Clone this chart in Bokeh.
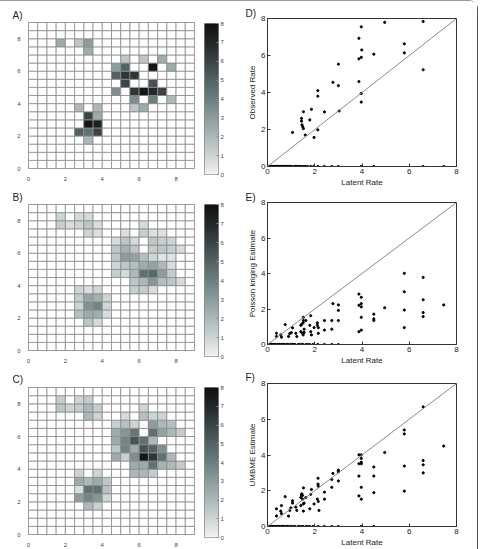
import numpy as np
from bokeh.plotting import figure
from bokeh.layouts import row, column
from bokeh.models import LinearColorMapper, Slope, ColumnDataSource
from bokeh.embed import file_html
from bokeh.resources import INLINE

FONT = "Liberation Sans"

# ---------------------------------------------------------------- data
# Heat maps: 0.5-unit cells on a 0..9 square; each non-zero cell is given by
# the lower-left corner (col, row) and its rate. All other cells are 0.
a_col = [1.5, 2.5, 3.0, 3.0, 5.0, 6.0, 7.0, 4.5, 5.0, 6.5, 7.5, 4.5, 5.0, 5.5,
         5.0, 6.5, 4.5, 5.5, 6.0, 6.5, 7.0, 5.5, 6.5, 7.5, 2.5, 3.5, 5.5, 6.0,
         3.0, 3.5, 3.0, 3.5, 2.5, 3.0, 3.5, 3.0]
a_row = [7.5, 7.5, 7.5, 7.0, 6.5, 6.5, 6.5, 6.0, 6.0, 6.0, 6.0, 5.5, 5.5, 5.5,
         5.0, 5.0, 4.5, 4.5, 4.5, 4.5, 4.5, 4.0, 4.0, 4.0, 3.5, 3.5, 3.5, 3.5,
         3.0, 3.0, 2.5, 2.5, 2.0, 2.0, 2.0, 1.5]
a_val = [2.5, 1.5, 3.0, 2.5, 1.5, 1.5, 2.5, 3.0, 5.0, 7.8, 2.5, 5.0, 6.5, 6.5,
         6.0, 5.5, 3.5, 6.5, 7.8, 7.0, 6.0, 3.5, 4.0, 2.0, 2.0, 2.0, 1.5, 2.5,
         6.0, 2.5, 7.8, 7.3, 5.0, 4.5, 6.0, 2.0]

b_col = [1.5, 2.5, 3.0,
         1.5, 2.0, 2.5, 3.0, 3.5, 6.0,
         3.0, 3.5, 5.0, 6.0, 6.5, 7.0,
         4.5, 5.0, 5.5, 6.5, 7.0, 7.5,
         4.5, 5.0, 5.5, 6.5, 7.0, 7.5, 8.0,
         4.5, 5.0, 5.5, 6.0, 6.5, 7.0, 7.5,
         4.5, 5.0, 5.5, 6.0, 6.5, 7.0, 7.5,
         4.5, 5.0, 5.5, 6.0, 6.5, 7.0, 7.5,
         5.5, 6.0, 6.5, 7.0, 7.5, 8.0,
         2.5, 3.0, 3.5, 5.5, 6.0, 6.5,
         2.5, 3.0, 3.5, 4.0,
         2.5, 3.0, 3.5, 4.0,
         2.5, 3.0, 3.5, 4.0,
         3.0, 3.5]
b_row = [8.0, 8.0, 8.0,
         7.5, 7.5, 7.5, 7.5, 7.5, 7.5,
         7.0, 7.0, 7.0, 7.0, 7.0, 7.0,
         6.5, 6.5, 6.5, 6.5, 6.5, 6.5,
         6.0, 6.0, 6.0, 6.0, 6.0, 6.0, 6.0,
         5.5, 5.5, 5.5, 5.5, 5.5, 5.5, 5.5,
         5.0, 5.0, 5.0, 5.0, 5.0, 5.0, 5.0,
         4.5, 4.5, 4.5, 4.5, 4.5, 4.5, 4.5,
         4.0, 4.0, 4.0, 4.0, 4.0, 4.0,
         3.5, 3.5, 3.5, 3.5, 3.5, 3.5,
         3.0, 3.0, 3.0, 3.0,
         2.5, 2.5, 2.5, 2.5,
         2.0, 2.0, 2.0, 2.0,
         1.5, 1.5]
b_val = [1.0, 0.8, 0.8,
         1.2, 0.7, 1.0, 1.5, 0.7, 0.8,
         1.0, 0.6, 0.6, 1.2, 0.6, 0.6,
         0.8, 1.5, 0.8, 1.5, 1.2, 1.0,
         1.5, 2.2, 1.5, 1.3, 1.5, 1.2, 0.7,
         1.5, 3.0, 2.8, 1.8, 1.0, 0.5, 0.5,
         1.0, 1.5, 1.8, 2.5, 2.8, 2.0, 0.7,
         1.3, 0.8, 2.0, 4.5, 4.8, 3.0, 1.3,
         1.5, 2.0, 3.2, 1.8, 1.5, 0.8,
         1.0, 0.6, 1.0, 1.2, 1.3, 0.7,
         1.3, 2.7, 2.3, 1.0,
         1.0, 3.3, 3.8, 1.0,
         1.7, 2.5, 2.4, 0.7,
         1.5, 0.8]

c_col = [1.5, 2.5, 3.0,
         1.5, 2.0, 2.5, 3.0, 3.5, 6.0,
         3.0, 3.5, 5.0, 6.0, 6.5, 7.0,
         4.5, 5.0, 5.5, 6.5, 7.0, 7.5,
         4.5, 5.0, 5.5, 6.5, 7.0, 7.5, 8.0,
         4.5, 5.0, 5.5, 6.0, 6.5,
         4.5, 5.0, 5.5, 6.0, 6.5, 7.0,
         4.5, 5.0, 5.5, 6.0, 6.5, 7.0, 7.5,
         5.5, 6.0, 6.5, 7.0, 7.5, 8.0,
         2.5, 3.5, 5.5, 6.0, 6.5,
         2.5, 3.0, 3.5, 4.0,
         2.5, 3.0, 3.5, 4.0,
         2.5, 3.0, 3.5, 4.0,
         3.0, 3.5]
c_row = [8.0, 8.0, 8.0,
         7.5, 7.5, 7.5, 7.5, 7.5, 7.5,
         7.0, 7.0, 7.0, 7.0, 7.0, 7.0,
         6.5, 6.5, 6.5, 6.5, 6.5, 6.5,
         6.0, 6.0, 6.0, 6.0, 6.0, 6.0, 6.0,
         5.5, 5.5, 5.5, 5.5, 5.5,
         5.0, 5.0, 5.0, 5.0, 5.0, 5.0,
         4.5, 4.5, 4.5, 4.5, 4.5, 4.5, 4.5,
         4.0, 4.0, 4.0, 4.0, 4.0, 4.0,
         3.5, 3.5, 3.5, 3.5, 3.5,
         3.0, 3.0, 3.0, 3.0,
         2.5, 2.5, 2.5, 2.5,
         2.0, 2.0, 2.0, 2.0,
         1.5, 1.5]
c_val = [1.2, 1.0, 1.3,
         1.5, 1.0, 1.3, 2.0, 1.2, 1.0,
         2.0, 1.0, 0.8, 1.7, 1.0, 1.0,
         1.2, 1.7, 1.0, 3.0, 2.0, 1.7,
         2.5, 3.2, 4.3, 4.5, 2.8, 2.0, 1.3,
         2.5, 3.8, 5.5, 4.5, 2.0,
         1.5, 3.8, 2.5, 5.5, 5.0, 3.5,
         2.5, 1.2, 3.5, 7.7, 6.5, 4.5, 2.0,
         2.5, 2.5, 4.5, 2.2, 2.0, 1.3,
         1.0, 1.0, 2.0, 2.0, 1.3,
         2.5, 2.0, 2.5, 1.5,
         0.7, 4.5, 4.5, 1.7,
         3.0, 3.8, 3.2, 1.0,
         2.0, 1.2]

# Scatter panels: latent rate against observed / estimated rate (non-zero part)
d_latent = [1.06, 1.44, 1.44, 1.46, 1.49, 1.52, 1.52, 1.60, 1.79, 1.86, 1.97,
            2.13, 2.13, 2.13, 2.41, 2.77, 3.00, 3.00, 3.03, 3.87, 3.87, 3.87,
            3.97, 3.99, 3.97, 3.97, 3.97, 4.50, 4.96, 5.79, 5.79, 6.59, 6.59]
d_observed = [1.84, 2.60, 2.45, 2.25, 2.15, 2.05, 2.96, 1.70, 2.52, 3.09, 1.57,
              1.98, 4.10, 3.80, 2.95, 4.55, 4.37, 5.53, 3.00, 6.93, 5.82, 4.59,
              7.55, 6.30, 5.90, 3.95, 3.48, 6.07, 7.79, 6.63, 6.14, 7.84, 5.23]
d_zero_latent = [0.00, 0.03, 0.07, 0.10, 0.13, 0.17, 0.20, 0.24, 0.28, 0.31,
                 0.35, 0.38, 0.42, 0.45, 0.50, 0.53, 0.56, 0.60, 0.64, 0.68,
                 0.72, 0.75, 0.80, 0.84, 0.89, 0.94, 0.98, 1.02, 1.12, 1.17,
                 1.20, 1.24, 1.30, 1.36, 1.41, 1.50, 1.55, 1.62, 1.70, 1.83,
                 1.95, 2.13, 2.41, 2.72, 3.00, 3.97, 4.50, 6.59, 7.46]

e_latent = [0.38, 0.38, 0.56, 0.59, 0.75, 0.89, 0.94, 1.01, 1.06, 1.20, 1.24,
            1.41, 1.41, 1.44, 1.48, 1.51, 1.52, 1.51, 1.55, 1.55, 1.52, 1.62,
            1.79, 1.83, 1.83, 1.86, 1.97, 2.11, 2.11, 2.15, 2.15, 2.41, 2.41,
            2.72, 2.72, 2.77, 3.00, 3.00, 3.00, 3.87, 3.87, 3.87, 3.97, 3.97,
            3.97, 3.97, 3.97, 4.50, 4.50, 4.50, 4.96, 5.79, 5.79, 5.79, 5.79,
            6.59, 6.59, 6.59, 6.59, 7.46]
e_kriging = [0.63, 0.45, 0.54, 0.41, 1.12, 0.45, 0.61, 0.67, 0.94, 0.63, 0.45,
             0.72, 1.08, 1.13, 0.63, 0.54, 1.53, 1.22, 0.86, 0.68, 1.35, 1.35,
             1.08, 1.62, 0.72, 0.54, 0.95, 1.22, 1.08, 0.95, 0.63, 1.35, 0.81,
             1.35, 0.86, 2.30, 1.92, 2.23, 1.35, 2.84, 2.21, 0.72, 2.66, 2.30,
             2.12, 1.53, 0.81, 1.71, 1.44, 1.35, 2.07, 4.01, 2.97, 1.94, 0.95,
             3.78, 2.52, 1.80, 1.57, 2.23]
e_zero_latent = [0.00, 0.03, 0.07, 0.10, 0.13, 0.17, 0.20, 0.24, 0.28, 0.31,
                 0.35, 0.42, 0.45, 0.50, 0.53, 0.60, 0.64, 0.68, 0.72, 0.80,
                 0.84, 0.89, 0.98, 1.02, 1.06, 1.12, 1.17, 1.30, 1.36, 1.45,
                 1.50, 1.62, 1.70, 1.79, 1.92, 2.13, 2.41, 2.72, 3.00]

f_latent = [0.38, 0.38, 0.56, 0.59, 0.59, 0.75, 0.89, 0.94, 0.99, 1.06, 1.06,
            1.20, 1.24, 1.41, 1.41, 1.44, 1.45, 1.48, 1.49, 1.51, 1.52, 1.55,
            1.52, 1.62, 1.79, 1.83, 1.86, 1.97, 2.11, 2.14, 2.14, 2.15, 2.15,
            2.18, 2.41, 2.41, 2.72, 2.72, 2.77, 3.00, 3.00, 3.00, 3.87, 3.87,
            3.87, 3.87, 3.97, 3.97, 3.97, 3.97, 3.97, 3.97, 4.50, 4.50, 4.50,
            4.96, 5.79, 5.79, 5.79, 5.79, 6.59, 6.59, 6.59, 6.59, 7.46]
f_umbme = [0.99, 0.59, 0.86, 1.17, 0.72, 1.67, 0.58, 0.90, 1.04, 1.44, 1.31,
           1.08, 0.90, 1.17, 1.62, 1.76, 1.83, 1.74, 1.53, 1.26, 2.16, 1.31,
           0.86, 1.62, 0.99, 1.80, 2.07, 1.26, 1.53, 2.70, 2.37, 2.25, 1.40,
           0.90, 1.92, 1.53, 2.63, 2.19, 2.97, 3.15, 3.06, 2.55, 4.01, 3.51,
           2.82, 1.71, 4.01, 3.81, 3.60, 3.51, 2.19, 1.53, 3.33, 2.82, 1.89,
           4.14, 5.40, 5.18, 3.38, 1.98, 6.69, 3.69, 3.45, 3.00, 4.50]
f_zero_latent = [0.00, 0.03, 0.07, 0.10, 0.13, 0.17, 0.20, 0.24, 0.28, 0.31,
                 0.35, 0.42, 0.45, 0.50, 0.53, 0.60, 0.64, 0.68, 0.72, 0.80,
                 0.84, 0.89, 0.98, 1.02, 1.12, 1.17, 1.30, 1.36, 1.45, 1.50,
                 1.62, 1.70, 1.79, 1.92, 2.15, 2.41, 2.72, 3.00, 3.97, 4.50]

map_ticks = [0, 2, 4, 6, 8]
bar_ticks = [0, 1, 2, 3, 4, 5, 6, 7, 8]
rate_ticks = [0, 2, 4, 6, 8]

# ---------------------------------------------------------------- styling
ramp_anchors = [(242, 242, 242), (205, 212, 212), (172, 184, 184),
                (140, 156, 156), (110, 126, 126), (83, 98, 98),
                (58, 68, 70), (35, 40, 42), (16, 16, 16)]


def ramp_palette(anchors, n=256):
    out = []
    for k in range(n):
        t = k / (n - 1) * (len(anchors) - 1)
        i = min(int(t), len(anchors) - 2)
        f = t - i
        c = [round(a + (b - a) * f) for a, b in zip(anchors[i], anchors[i + 1])]
        out.append("#%02x%02x%02x" % tuple(c))
    return out


palette = ramp_palette(ramp_anchors)
mapper = LinearColorMapper(palette=palette, low=1e-6, high=8, low_color="white")

GRID = "#8c8c8c"
N_CELLS = 18
CELL = 0.5


def panel_label(p, text, offset, standoff):
    # the panel letter sits in the title slot, pulled left of the frame
    p.title.text = text
    p.title.align = "left"
    p.title.offset = offset
    p.title.standoff = standoff
    p.title.text_font = FONT
    p.title.text_font_size = "10px"
    p.title.text_font_style = "normal"
    p.title.text_color = "#222222"


def heat_panel(cols, rows, vals, letter, top, frame_h, bottom, standoff):
    lookup = {(c, r): v for c, r, v in zip(cols, rows, vals)}
    xs, ys, vs = [], [], []
    for i in range(N_CELLS):
        for j in range(N_CELLS):
            cx, cy = i * CELL, j * CELL
            xs.append(cx + CELL / 2)
            ys.append(cy + CELL / 2)
            vs.append(lookup.get((cx, cy), 0.0))
    src = ColumnDataSource(dict(x=xs, y=ys, v=vs))
    p = figure(width=200, height=top + frame_h + bottom,
               x_range=(0, 9), y_range=(0, 9),
               min_border_left=28, min_border_right=6,
               min_border_top=top, min_border_bottom=bottom,
               output_backend="svg", toolbar_location=None)
    p.rect(x="x", y="y", width=CELL, height=CELL, source=src,
           fill_color={"field": "v", "transform": mapper},
           line_color=GRID, line_width=0.8)
    p.grid.visible = False
    p.outline_line_color = GRID
    for ax in (p.xaxis, p.yaxis):
        ax.ticker = map_ticks
        ax.major_label_text_font = FONT
        ax.major_label_text_font_size = "6px"
        ax.major_label_text_color = "#444444"
        ax.major_tick_line_color = None
        ax.minor_tick_line_color = None
        ax.axis_line_color = None
        ax.major_label_standoff = 2
    panel_label(p, letter, -16, standoff)
    return p


def bar_panel(top, frame_h, bottom):
    p = figure(width=40, height=top + frame_h + bottom,
               x_range=(0, 1), y_range=(0, 8),
               x_axis_location=None, y_axis_location="right",
               min_border_left=4, min_border_right=22,
               min_border_top=top, min_border_bottom=bottom,
               output_backend="svg", toolbar_location=None)
    gradient = np.linspace(0, 8, 256).reshape(256, 1)
    p.image(image=[gradient], x=0, y=0, dw=1, dh=8, color_mapper=mapper)
    p.grid.visible = False
    p.outline_line_color = GRID
    ax = p.yaxis[0]
    ax.ticker = bar_ticks
    ax.major_label_text_font = FONT
    ax.major_label_text_font_size = "6px"
    ax.major_label_text_color = "#444444"
    ax.major_tick_in = 2
    ax.major_tick_out = 0
    ax.major_tick_line_color = GRID
    ax.minor_tick_line_color = None
    ax.axis_line_color = None
    ax.major_label_standoff = 2
    return p


def scatter_panel(letter, ylabel, xv, yv, zeros, top, frame_h, bottom,
                  standoff):
    p = figure(width=237, height=top + frame_h + bottom,
               x_range=(0, 8), y_range=(0, 8),
               min_border_left=27, min_border_right=21,
               min_border_top=top, min_border_bottom=bottom,
               output_backend="svg", toolbar_location=None)
    p.grid.visible = False
    p.outline_line_color = "#333333"
    p.add_layout(Slope(gradient=1, y_intercept=0, line_color="#8a8a8a",
                       line_width=1))
    p.scatter(zeros, [0.0] * len(zeros), size=2.2, color="black")
    p.scatter(xv, yv, size=2.2, color="black")
    p.xaxis.axis_label = "Latent Rate"
    p.yaxis.axis_label = ylabel
    for ax in (p.xaxis, p.yaxis):
        ax.ticker = rate_ticks
        ax.major_label_text_font = FONT
        ax.major_label_text_font_size = "8px"
        ax.major_label_text_color = "#222222"
        ax.axis_label_text_font = FONT
        ax.axis_label_text_font_size = "8px"
        ax.axis_label_text_font_style = "normal"
        ax.axis_label_text_color = "#222222"
        ax.major_tick_in = 3
        ax.major_tick_out = 0
        ax.major_tick_line_color = "#333333"
        ax.minor_tick_line_color = None
        ax.axis_line_color = "#333333"
        ax.major_label_standoff = 2
        ax.axis_label_standoff = 1
    panel_label(p, letter, -22, standoff)
    return p


heat_a = heat_panel(a_col, a_row, a_val, "A)", 21, 152, 9, 3)
heat_b = heat_panel(b_col, b_row, b_val, "B)", 21, 152, 9, 4)
heat_c = heat_panel(c_col, c_row, c_val, "C)", 22, 150, 12, 5)

bar_a = bar_panel(22, 151, 9)
bar_b = bar_panel(21, 152, 9)
bar_c = bar_panel(22, 150, 12)

sc_d = scatter_panel("D)", "Observed Rate", d_latent, d_observed,
                     d_zero_latent, 17, 150, 21, 0)
sc_e = scatter_panel("E)", "Poisson kriging Estimate", e_latent, e_kriging,
                     e_zero_latent, 10, 148, 20, 0)
sc_f = scatter_panel("F)", "UMBME Estimate", f_latent, f_umbme,
                     f_zero_latent, 16, 148, 18, 1)

layout = row(column(heat_a, heat_b, heat_c),
             column(bar_a, bar_b, bar_c),
             column(sc_d, sc_e, sc_f),
             styles={"border-top": "1px solid #9a9a9a",
                     "border-right": "1.5px solid #555555",
                     "border-top-right-radius": "9px"})

open("out.html", "w").write(file_html(layout, INLINE))
